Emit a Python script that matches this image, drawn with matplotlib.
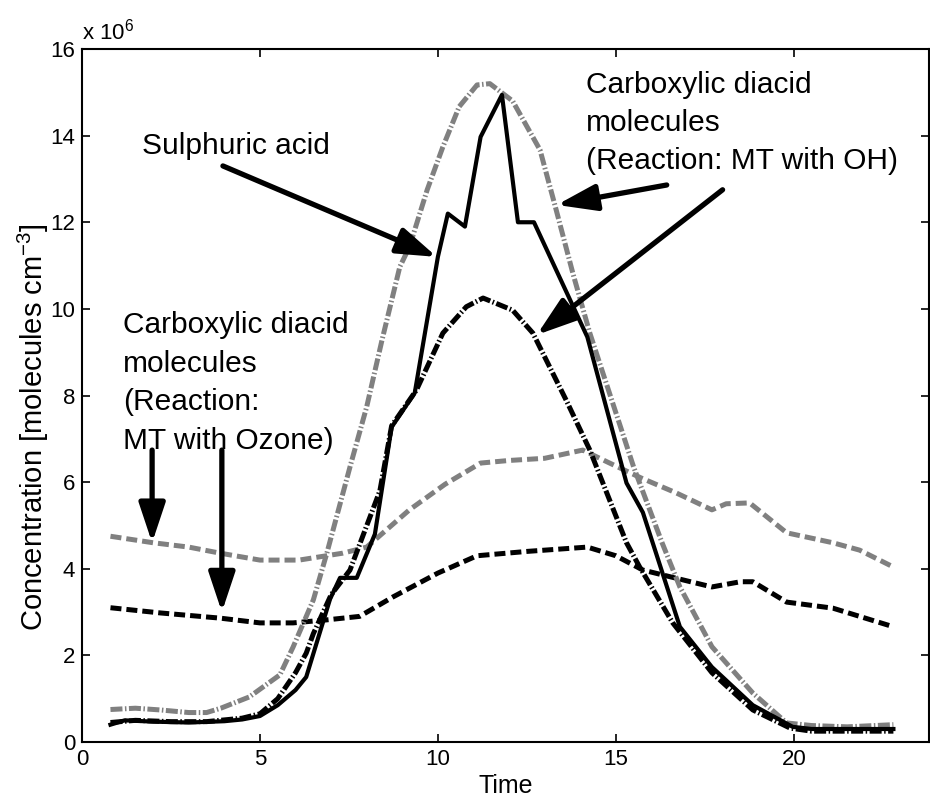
import matplotlib
matplotlib.use("Agg")
import matplotlib.pyplot as plt

plt.rcParams['font.family'] = ['Liberation Sans', 'DejaVu Sans']
plt.rcParams['mathtext.fontset'] = 'custom'
plt.rcParams['mathtext.rm'] = 'Liberation Sans'
plt.rcParams['mathtext.it'] = 'Liberation Sans:italic'
plt.rcParams['mathtext.default'] = 'regular'

# ---- data (concentration in units of 1e6 molecules cm^-3) ----
sulph_x = [0.8, 1.2, 2.0, 3.0, 4.0, 4.5, 5.0, 5.5, 6.0, 6.3, 6.97, 7.25, 7.72, 8.23, 8.7, 9.35,
           10.0, 10.28, 10.76, 11.2, 11.8, 12.25, 12.7, 14.2, 15.3, 15.76, 16.8, 17.7, 18.85,
           19.97, 20.5, 21.5, 22.8]
sulph_y = [0.4, 0.5, 0.47, 0.45, 0.48, 0.52, 0.6, 0.85, 1.2, 1.5, 3.3, 3.79, 3.79, 4.8, 7.27, 8.06,
           11.2, 12.2, 11.9, 13.97, 14.94, 12.0, 12.0, 9.35, 5.98, 5.3, 2.66, 1.73, 0.85,
           0.35, 0.3, 0.3, 0.3]

oh_gray_x = [0.8, 1.5, 2.2, 3.0, 3.5, 3.9, 4.7, 5.56, 5.93, 6.5, 6.88, 7.53, 8.0, 8.43, 8.93, 9.2,
             9.7, 10.14, 10.6, 11.1, 11.46, 12.1, 12.87, 13.3, 13.8, 14.27, 15.5, 16.3, 16.8,
             17.7, 18.85, 19.8, 20.5, 21.5, 22.8]
oh_gray_y = [0.75, 0.78, 0.74, 0.68, 0.68, 0.78, 1.04, 1.55, 2.19, 3.28, 4.36, 6.35, 7.74, 9.28,
             10.97, 11.43, 12.75, 13.74, 14.67, 15.17, 15.2, 14.8, 13.67, 12.36, 10.8, 9.44, 6.35,
             4.6, 3.58, 2.2, 1.13, 0.44, 0.38, 0.35, 0.4]

oh_black_x = [0.8, 1.5, 2.5, 3.5, 4.5, 5.0, 5.5, 6.0, 6.3, 6.5, 7.0, 7.53, 8.37, 8.7, 9.4, 10.14,
              10.8, 11.27, 12.1, 12.67, 13.6, 14.27, 15.3, 15.67, 16.6, 17.7, 18.85, 19.9, 20.5,
              21.5, 22.8]
oh_black_y = [0.45, 0.5, 0.47, 0.47, 0.55, 0.65, 1.0, 1.6, 2.05, 2.5, 3.4, 3.97, 5.8, 7.3, 8.13,
              9.44, 10.05, 10.25, 9.97, 9.44, 7.9, 6.74, 4.6, 4.04, 2.75, 1.6, 0.74, 0.32, 0.25,
              0.25, 0.25]

oz_gray_x = [0.8, 2.0, 3.0, 3.88, 5.0, 6.1, 7.33, 8.0, 9.2, 10.2, 11.2, 12.0, 13.0, 14.07, 14.8,
             15.7, 16.7, 17.7, 18.1, 18.76, 19.8, 21.1, 21.85, 22.8]
oz_gray_y = [4.75, 4.6, 4.5, 4.36, 4.2, 4.2, 4.36, 4.5, 5.36, 5.95, 6.44, 6.5, 6.55, 6.74, 6.45,
             6.1, 5.75, 5.36, 5.5, 5.52, 4.83, 4.6, 4.43, 4.04]

oz_black_x = [0.8, 2.2, 3.88, 5.0, 5.93, 6.88, 7.8, 8.74, 10.0, 11.1, 12.5, 14.2, 15.0, 15.76,
              16.9, 17.7, 18.5, 18.85, 19.8, 21.1, 22.8]
oz_black_y = [3.1, 2.98, 2.86, 2.75, 2.75, 2.82, 2.9, 3.35, 3.9, 4.3, 4.4, 4.5, 4.3, 3.97,
              3.74, 3.58, 3.7, 3.7, 3.23, 3.09, 2.66]

x_ticks = [0, 5, 10, 15, 20]
y_ticks = [0, 2, 4, 6, 8, 10, 12, 14, 16]

label_sulph = "Sulphuric acid"
label_oh = "Carboxylic diacid\nmolecules\n(Reaction: MT with OH)"
label_oz = "Carboxylic diacid\nmolecules\n(Reaction:\nMT with Ozone)"

# ---- figure ----
W, H = 930, 801
fig = plt.figure(figsize=(W / 100, H / 100), dpi=100)
L, R, T, B = 82, 929, 49, 742
ax = fig.add_axes([L / W, (H - B) / H, (R - L) / W, (B - T) / H])

gray = '#808080'
lw_d = 3.6
ax.plot(oz_gray_x, oz_gray_y, color=gray, lw=lw_d, dashes=(2.2, 1.0))
ax.plot(oz_black_x, oz_black_y, color='k', lw=lw_d, dashes=(2.2, 1.0))
ax.plot(oh_gray_x, oh_gray_y, color=gray, lw=lw_d, dashes=(2.4, 0.5, 0.3, 0.5))
ax.plot(oh_black_x, oh_black_y, color='k', lw=lw_d, dashes=(2.4, 0.5, 0.3, 0.5))
ax.plot(sulph_x, sulph_y, color='k', lw=3.0)

ax.set_xlim(0, 23.8)
ax.set_ylim(0, 16)
ax.set_xticks(x_ticks)
ax.set_yticks(y_ticks)
ax.tick_params(direction='in', length=6, width=1.2, top=True, right=True, labelsize=16, pad=5)
for s in ax.spines.values():
    s.set_linewidth(1.5)

ax.set_xlabel("Time", fontsize=18, labelpad=3)
ax.set_ylabel("Concentration [molecules cm$^{-3}$]", fontsize=21, labelpad=1)
ax.yaxis.set_label_coords(-0.037, 0.455)
ax.text(0.0, 1.006, "x 10$^{6}$", transform=ax.transAxes, fontsize=16, ha='left', va='bottom')

fs = 21.5
ax.text(1.69, 13.76, label_sulph, fontsize=fs, ha='left', va='center')
ax.text(14.16, 15.5, label_oh, fontsize=fs, ha='left', va='top', linespacing=1.46)
ax.text(1.15, 9.95, label_oz, fontsize=fs, ha='left', va='top', linespacing=1.48)

arrow_kw = dict(arrowstyle='-|>,head_length=1.2,head_width=0.4', lw=3.8, color='k',
                shrinkA=0, shrinkB=0, mutation_scale=20)
arrows = [((3.96, 13.30), (9.97, 11.2)),
          ((16.43, 12.86), (13.34, 12.40)),
          ((18.0, 12.75), (12.78, 9.40)),
          ((1.97, 6.74), (1.97, 4.6)),
          ((3.93, 6.74), (3.93, 3.0))]
for start, tip in arrows:
    ax.annotate("", xy=tip, xytext=start, arrowprops=arrow_kw)

fig.savefig("out.png", dpi=100)
